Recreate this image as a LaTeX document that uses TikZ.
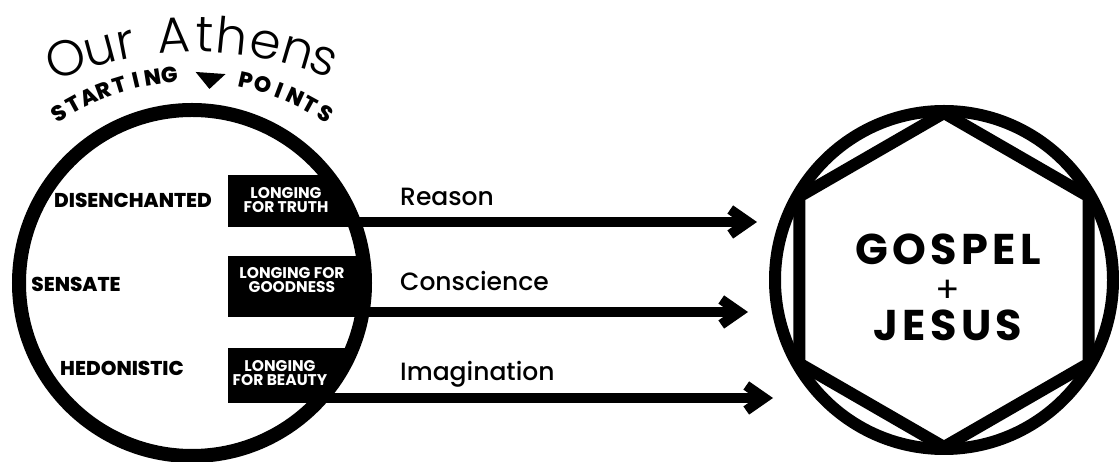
\documentclass[tikz,border=0pt]{standalone}
\usepackage{fontspec}
\setmainfont{Poppins}
\IfFontExistsTF{Poppins Light}
  {\newfontfamily\athfont{Poppins Light}}
  {\newfontfamily\athfont{Poppins}}
\IfFontExistsTF{Poppins Medium}
  {\newfontfamily\wayfont{Poppins Medium}}
  {\newfontfamily\wayfont{Poppins}}
\IfFontExistsTF{Poppins ExtraBold}
  {\newfontfamily\heavyfont{Poppins ExtraBold}}
  {\newfontfamily\heavyfont{Poppins}[FakeBold=1.5]}
\newfontfamily\gospfont{Poppins}[LetterSpace=10]
\usetikzlibrary{arrows.meta, shapes.geometric}

\begin{document}
\begin{tikzpicture}[x=1pt, y=1pt,
    statelbl/.style = {font=\heavyfont\fontsize{20}{20}\selectfont},
    longbox/.style = {fill=black, anchor=south west, minimum width=160, inner sep=0},
    longtxt/.style = {text=white, align=center, inner sep=0, font=\bfseries\fontsize{15.5}{14}\selectfont},
    waylbl/.style = {anchor=base west, inner sep=0, font=\wayfont\fontsize{25}{25}\selectfont},
    way/.style = {line width=10, -{Straight Barb[length=18pt, width=25pt, line width=10pt]}},
    athtxt/.style = {anchor=base, inner sep=0, font=\athfont\fontsize{50}{50}\selectfont},
    startxt/.style = {anchor=base, inner sep=0, font=\heavyfont\fontsize{22}{22}\selectfont}]
  \useasboundingbox (0,0) rectangle (1119,462);

  % title round the top of the circle
  \coordinate (ac) at (195,60);
  \foreach \ch/\a [count=\i] in {O/110.6, u/105.1, r/100.9, A/93.3, t/88.4, h/84.3, e/78.8, n/73.7, s/69.4}
    \node[athtxt, rotate=\a-90] (ath\i) at ([shift={(\a:350)}]ac) {\ch};
  \coordinate (sc) at (192,141);
  \foreach \ch [count=\i from 0] in {S,T,A,R,T,I,N,G}
    \node[startxt, rotate=32.6-3.9*\i] (st\i) at ([shift={(122.6-3.9*\i:239)}]sc) {\ch};
  \foreach \ch [count=\i from 0] in {P,O,I,N,T,S}
    \node[startxt, rotate=-12.7-4*\i] (pt\i) at ([shift={(77.3-4*\i:239)}]sc) {\ch};
  \fill[rotate around={-4:(210,381)}] (195,389) -- (225,389) -- (210,373) -- cycle;

  % black boxes, cut by the ring
  \coordinate (lc) at (192,179);
  \begin{scope}
    \clip (lc) circle[radius=173];
    \node[longbox, minimum height=52] (truthbox) at (228,235) {};
    \node[longbox, minimum height=61] (goodbox) at (228,145) {};
    \node[longbox, minimum height=55] (beautybox) at (228,59) {};
  \end{scope}

  \node[statelbl] (disen) at (133,262) {DISENCHANTED};
  \node[statelbl] (sensate) at (76,178) {SENSATE};
  \node[statelbl] (hedon) at (122,94) {HEDONISTIC};

  \node[longtxt] (truth) at (286,262) {LONGING\\FOR TRUTH};
  \node[longtxt] (goodness) at (292,182) {LONGING FOR\\GOODNESS};
  \node[longtxt] (beauty) at (280,89) {LONGING\\FOR BEAUTY};

  % arrows
  \coordinate (t1) at (757,240);
  \coordinate (t2) at (748,150);
  \coordinate (t3) at (773,64);
  \draw[way] ([yshift=5]truthbox.south west) -- (t1);
  \draw[way] ([yshift=5]goodbox.south west) -- (t2);
  \draw[way] ([yshift=5]beautybox.south west) -- (t3);

  \node[waylbl] (reason) at (400,256) {Reason};
  \node[waylbl] (consc) at (400,171) {Conscience};
  \node[waylbl] (imag) at (400,81) {Imagination};

  \node[draw, circle, line width=14, minimum size=346, inner sep=0] (athens) at (lc) {};

  % right side
  \node[draw, circle, line width=12, minimum size=338, inner sep=0] (gospel) at (944,182) {};
  \node[draw, regular polygon, regular polygon sides=6, shape border rotate=30,
    line width=12, minimum size=334, inner sep=0] (hex) at (944,182) {};
  \node[font=\fontsize{43}{38}\selectfont, align=center] (gosptxt) at (948,175)
    {\gospfont\bfseries GOSPEL\\{\fontsize{36}{38}\selectfont+}\\\gospfont\bfseries JESUS};
\end{tikzpicture}
\end{document}
